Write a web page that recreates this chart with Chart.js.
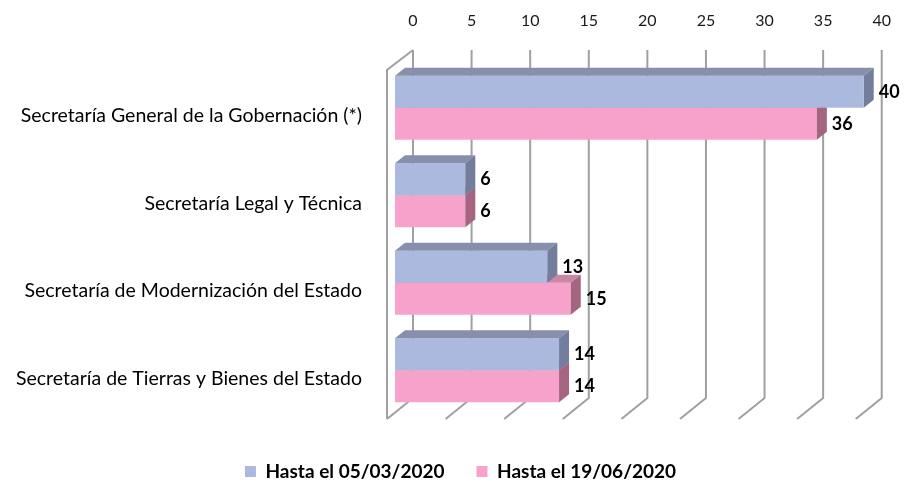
<!DOCTYPE html>
<html>
<head>
<meta charset="utf-8">
<script src="https://cdn.jsdelivr.net/npm/chart.js@4.4.1/dist/chart.umd.min.js"></script>
<style>
  body { margin: 0; background: #fff; }
  canvas { display: block; }
</style>
</head>
<body>
<canvas id="chart" width="907" height="489"></canvas>
<script>
// Data
const categories = [
    'Secretaría General de la Gobernación (*)',
    'Secretaría Legal y Técnica',
    'Secretaría de Modernización del Estado',
    'Secretaría de Tierras y Bienes del Estado'
];
const seriesLabels = ['Hasta el 05/03/2020', 'Hasta el 19/06/2020'];
const hasta0503 = [40, 6, 13, 14];
const hasta1906 = [36, 6, 15, 14];
const xTicks = [0, 5, 10, 15, 20, 25, 30, 35, 40];

const FONT = 'Lato, "Open Sans", sans-serif';
const DX = 10, DY = -8; // bar depth

// shaded faces for the 3d look
const faceColors = [
    { top: '#8690ad', side: '#737d9c' },
    { top: '#c887a5', side: '#a5647f' }
];

// back wall + floor lines
const wallPlugin = {
    id: 'wall',
    beforeDatasetsDraw(chart) {
        const { ctx, chartArea } = chart;
        const xs = chart.scales.x;
        const topBack = chartArea.top - 14;
        const bottomBack = chartArea.bottom - 16;
        ctx.save();
        ctx.strokeStyle = '#a0a0a0';
        ctx.lineWidth = 2;
        xTicks.forEach(v => {
            const bx = xs.getPixelForValue(v) + 18;
            ctx.beginPath();
            ctx.moveTo(bx, topBack);
            ctx.lineTo(bx, bottomBack);
            ctx.lineTo(bx - 26, bottomBack + 21);
            ctx.stroke();
        });
        // left wall front edge
        const x0 = xs.getPixelForValue(0) + 18;
        ctx.beginPath();
        ctx.moveTo(x0, topBack);
        ctx.lineTo(x0 - 26, topBack + 20);
        ctx.lineTo(x0 - 26, bottomBack + 21);
        ctx.stroke();
        ctx.restore();
    }
};

// top and side faces of each bar
const depthPlugin = {
    id: 'depth',
    afterDatasetDraw(chart, args) {
        const ctx = chart.ctx;
        const colors = faceColors[args.index];
        ctx.save();
        args.meta.data.forEach(bar => {
            const p = bar.getProps(['x', 'y', 'base', 'height'], true);
            const top = p.y - p.height / 2;
            const bottom = p.y + p.height / 2;
            ctx.fillStyle = colors.top;
            ctx.beginPath();
            ctx.moveTo(p.base, top);
            ctx.lineTo(p.base + DX, top + DY);
            ctx.lineTo(p.x + DX, top + DY);
            ctx.lineTo(p.x, top);
            ctx.closePath();
            ctx.fill();
            ctx.fillStyle = colors.side;
            ctx.beginPath();
            ctx.moveTo(p.x, top);
            ctx.lineTo(p.x + DX, top + DY);
            ctx.lineTo(p.x + DX, bottom + DY);
            ctx.lineTo(p.x, bottom);
            ctx.closePath();
            ctx.fill();
        });
        ctx.restore();
    }
};

// value labels next to bars
const valuePlugin = {
    id: 'values',
    afterDatasetsDraw(chart) {
        const ctx = chart.ctx;
        ctx.save();
        ctx.font = 'bold 18px ' + FONT;
        ctx.fillStyle = '#000';
        ctx.textAlign = 'left';
        ctx.textBaseline = 'middle';
        chart.data.datasets.forEach((ds, i) => {
            chart.getDatasetMeta(i).data.forEach((bar, j) => {
                ctx.fillText(ds.data[j], bar.x + 15, bar.y);
            });
        });
        ctx.restore();
    }
};

const ctx = document.getElementById('chart').getContext('2d');
new Chart(ctx, {
    type: 'bar',
    data: {
        labels: categories,
        datasets: [{
            label: seriesLabels[0],
            data: hasta0503,
            backgroundColor: '#abb9df',
            borderWidth: 0,
            xAxisID: 'x',
            yAxisID: 'y'
        }, {
            label: seriesLabels[1],
            data: hasta1906,
            backgroundColor: '#f7a2ca',
            borderWidth: 0,
            xAxisID: 'x',
            yAxisID: 'y'
        }]
    },
    options: {
        indexAxis: 'y',
        responsive: false,
        animation: false,
        categoryPercentage: 0.732,
        barPercentage: 1,
        layout: { padding: { left: 14, right: 0, top: 0, bottom: -2 } },
        scales: {
            x: {
                position: 'top',
                min: 0,
                max: 40,
                grid: { display: false, drawTicks: false },
                border: { display: false },
                ticks: {
                    stepSize: 5,
                    padding: 34,
                    labelOffset: 18,
                    color: '#1a1a1a',
                    font: { family: FONT, size: 16 }
                },
                afterFit: s => { s.height = 64; }
            },
            y: {
                type: 'category',
                grid: { display: false, drawTicks: false },
                border: { display: false },
                ticks: {
                    padding: 33,
                    labelOffset: 8,
                    color: '#000',
                    font: { family: FONT, size: 19.5 }
                },
                afterFit: s => { s.width = 381; }
            },
            // empty scales only used to reserve space
            spacer: {
                type: 'linear',
                position: 'bottom',
                grid: { display: false, drawTicks: false },
                border: { display: false },
                ticks: { display: false },
                afterFit: s => { s.height = 16; }
            },
            spacerRight: {
                type: 'linear',
                position: 'right',
                grid: { display: false, drawTicks: false },
                border: { display: false },
                ticks: { display: false },
                afterFit: s => { s.width = 40; }
            }
        },
        plugins: {
            legend: {
                position: 'bottom',
                labels: {
                    boxWidth: 11,
                    boxHeight: 11,
                    padding: 32,
                    color: '#000',
                    font: { family: FONT, size: 19, weight: 'bold' }
                }
            },
            tooltip: { enabled: false }
        }
    },
    plugins: [wallPlugin, depthPlugin, valuePlugin]
});
</script>
</body>
</html>
